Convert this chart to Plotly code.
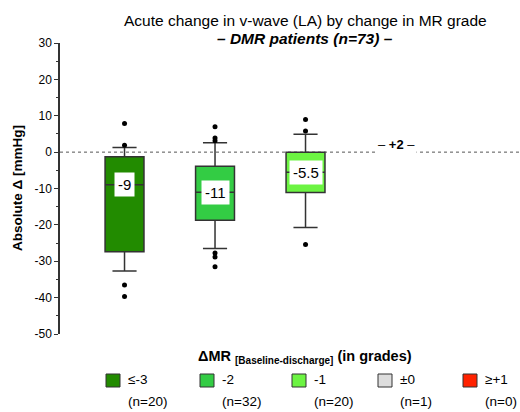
import plotly.graph_objects as go

# ---- data ----
categories = ["≤-3", "-2", "-1", "±0", "≥+1"]
n_counts = [20, 32, 20, 1, 0]
colors = ["#228b00", "#33cc44", "#6cf442", "#dddddd", "#ff2200"]

q1 = [-27.4, -18.7, -11.1]
medians = [-9, -11, -5.5]
q3 = [-1.3, -3.9, 0.0]
lower_whisker = [-32.7, -26.5, -20.7]
upper_whisker = [1.3, 2.6, 4.9]
outliers = [
    [7.9, 1.9, -36.5, -39.7],
    [7.0, 3.9, 3.1, -27.7, -28.8, -31.5],
    [9.0, 5.8, -25.4],
]
median_labels = ["-9", "-11", "-5.5"]
single_value = 2  # ±0 group, n=1
y_ticks = [30, 20, 10, 0, -10, -20, -30, -40, -50]

# ---- layout geometry (pixels) ----
W, H = 520, 412
L, R, T, B = 60, 520, 43, 334


def px(x):
    return (x - L) / (R - L)


def py(y):
    return (B - y) / (B - T)


FONT = "Liberation Sans, Arial, sans-serif"
fig = go.Figure()


def note(x, y, text, size=13, **kw):
    fig.add_annotation(xref="paper", yref="paper", x=px(x), y=py(y), text=text,
                       showarrow=False, xanchor=kw.pop("xanchor", "center"),
                       yanchor="middle", font=dict(family=FONT, size=size, color="black"),
                       **kw)


for i in range(3):
    fig.add_trace(go.Box(
        x=[i + 1], q1=[q1[i]], median=[medians[i]], q3=[q3[i]],
        lowerfence=[lower_whisker[i]], upperfence=[upper_whisker[i]],
        width=0.43, whiskerwidth=0.62, boxpoints=False,
        fillcolor=colors[i], line=dict(color="#333333", width=1.5),
        showlegend=False, hoverinfo="skip",
    ))
    fig.add_trace(go.Scatter(
        x=[i + 1] * len(outliers[i]), y=outliers[i], mode="markers",
        marker=dict(color="black", size=5), showlegend=False, hoverinfo="skip",
    ))
    fig.add_annotation(x=i + 1, y=medians[i], text=median_labels[i], showarrow=False,
                       xanchor="center", yanchor="middle",
                       bgcolor="white", font=dict(family=FONT, size=15, color="black"),
                       borderpad=3)

# zero reference line
fig.add_shape(type="line", xref="paper", yref="y", x0=0, x1=1, y0=0, y1=0,
              line=dict(color="#555555", width=1, dash="dot"), layer="below")
fig.add_annotation(x=4, y=single_value, text="– <b>+" + str(single_value) + "</b> –",
                   showarrow=False, bgcolor="white", xanchor="center", yanchor="middle",
                   font=dict(family=FONT, size=13, color="black"))

# titles
note(305, 20, "Acute change in v-wave (LA) by change in MR grade", size=15.5)
note(305, 38, "<b><i>– DMR patients (n=73) –</i></b>", size=15.5)
note(305, 357, "<b>ΔMR <sub><span style='font-size:10px'>[Baseline-discharge]</span></sub> (in grades)</b>", size=14.5)
note(17, 188, "<b>Absolute Δ [mmHg]</b>", size=13.5, textangle=-90)

# legend
leg_x = [106, 200, 292, 378, 463]
for i, cat in enumerate(categories):
    x0 = leg_x[i]
    fig.add_shape(type="rect", xref="paper", yref="paper",
                  x0=px(x0), x1=px(x0 + 14), y0=py(387), y1=py(374),
                  fillcolor=colors[i], line=dict(color="#333333", width=1))
    note(x0 + 20, 380, cat, size=13.5, xanchor="left")
    note(x0 + 20, 401, "(n=" + str(n_counts[i]) + ")", size=13.5, xanchor="left")

fig.update_layout(
    width=W, height=H,
    margin=dict(l=L, r=W - R, t=T, b=H - B),
    plot_bgcolor="white", paper_bgcolor="white",
    xaxis=dict(range=[0.287, 5.37], visible=False),
    yaxis=dict(range=[-50, 30], tickvals=y_ticks, ticktext=[str(v) for v in y_ticks],
               showgrid=False, zeroline=False, showline=True, linecolor="#333333",
               linewidth=1.5, ticks="outside", ticklen=4, tickcolor="#333333",
               tickfont=dict(family=FONT, size=12, color="black"),
               minor=dict(dtick=5, ticks="outside", ticklen=2, tickcolor="#333333")),
)

fig.write_html("out.html", config={"displayModeBar": False},
               post_script="document.body.style.margin='0';document.body.style.overflow='hidden';")
